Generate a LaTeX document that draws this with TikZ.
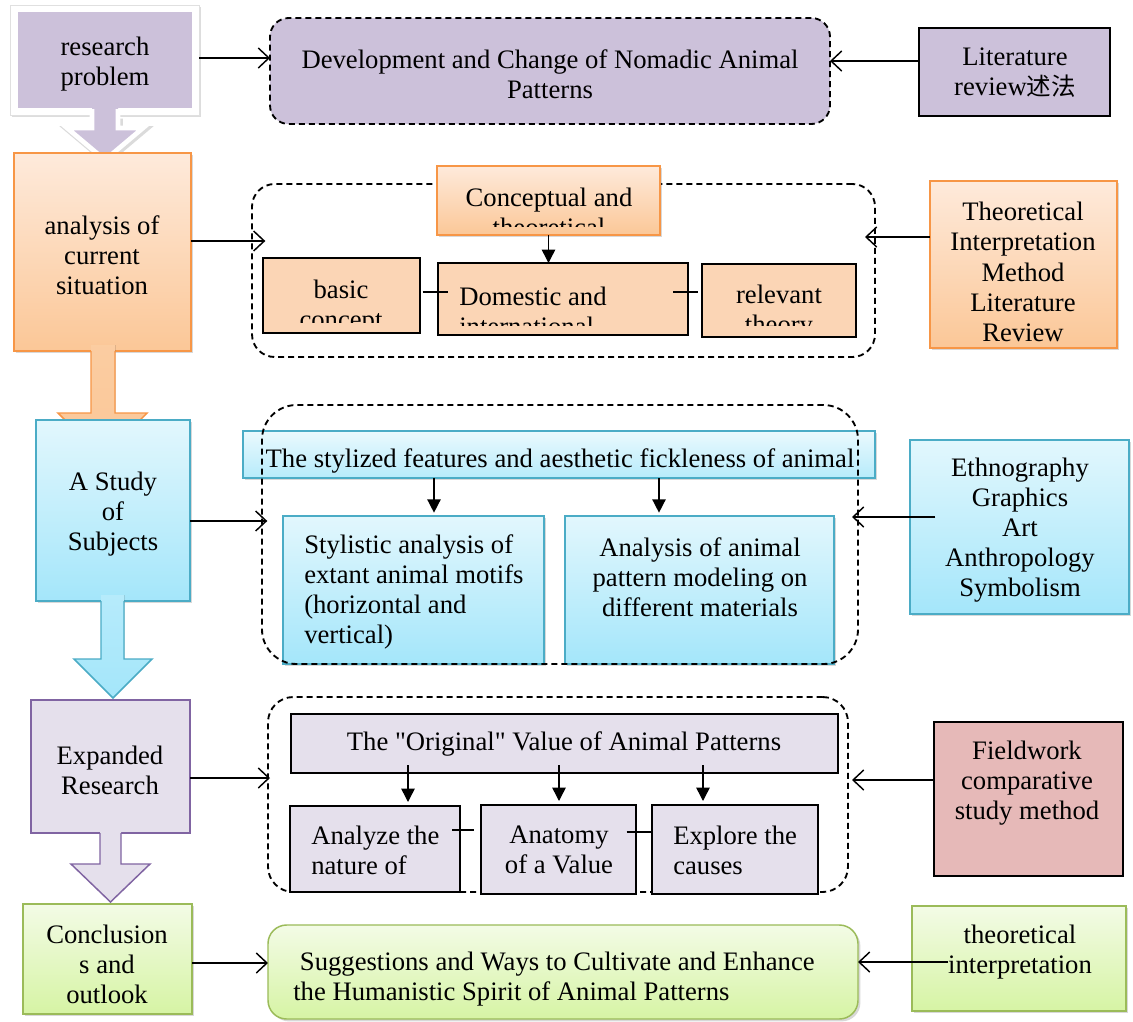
\documentclass[tikz,border=0pt]{standalone}
\usepackage{fontspec}
\setmainfont{Liberation Serif}
\newfontfamily\cjk{Noto Sans CJK SC}[Scale=0.92]
\usetikzlibrary{arrows.meta,shadows,calc}
\definecolor{lav}{HTML}{CCC1DA}
\definecolor{lavlt}{HTML}{E5E0EC}
\definecolor{lavbd}{HTML}{8064A2}
\definecolor{ortop}{HTML}{FEEADB}
\definecolor{orbot}{HTML}{FBC797}
\definecolor{orbd}{HTML}{F79646}
\definecolor{orflat}{HTML}{FBD5B5}
\definecolor{cytop}{HTML}{E2F7FD}
\definecolor{cybot}{HTML}{A4E6FA}
\definecolor{cybd}{HTML}{4BACC6}
\definecolor{grtop}{HTML}{F3FBE6}
\definecolor{grbot}{HTML}{D6F4A4}
\definecolor{grbd}{HTML}{9BBB59}
\definecolor{fwpink}{HTML}{E6B9B8}
\newcommand\bx[6]{\node[#6, inner sep=0pt, outer sep=0pt, minimum width={(#4-#2)*0.75pt}, minimum height={(#5-#3)*0.75pt}] (#1) at ({(#2+#4)/2},{(#3+#5)/2}) {};}
\begin{document}
\begin{tikzpicture}[x=0.75pt,y=-0.75pt,
  txt/.style={inner sep=0pt, align=center, yshift=-1.5pt, font=\fontsize{20pt}{22.6pt}\selectfont},
  shad/.style={drop shadow={shadow xshift=1.8pt,shadow yshift=-1.8pt,opacity=0.25,fill=black!60}},
  orbox/.style={top color=ortop,bottom color=orbot,draw=orbd,line width=1.1pt,shad},
  cybox/.style={top color=cytop,bottom color=cybot,draw=cybd,line width=1.1pt,shad},
  grbox/.style={top color=grtop,bottom color=grbot,draw=grbd,line width=1.1pt,shad},
  flat/.style={draw=black,line width=1.1pt},
  frame/.style={draw=black,line width=1.4pt,dash pattern=on 4.5pt off 3pt},
  barb/.style={draw,line width=1.1pt,-{Straight Barb[length=8pt,width=15pt,line width=1.1pt]}},
  tri/.style={draw,line width=1.1pt,-{Triangle[length=10pt,width=10pt]}},
  link/.style={draw,line width=1.1pt},
  blk/.style={line width=1.1pt,line join=miter}
]
\useasboundingbox[fill=white] (0,0) rectangle (1133,1022);

% ---------- left column ----------
\bx{rp}{10}{5}{199}{115}{fill=white,draw=black!12,line width=0.6pt,drop shadow={shadow xshift=1.5pt,shadow yshift=-1.5pt,opacity=0.22,fill=black!60}}
\bx{rp-in}{18}{12}{192}{108}{fill=lav}
\node[txt] (rp-t) at (105,62) {research\\problem};
% block arrow 1
\draw[black!14,line width=5pt,line join=miter,shift={(1.5,1.5)}] (92,117) -- (92,128) -- (67,128) -- (105,160) -- (143,128) -- (118,128) -- (118,117);
\fill[lav] (92,100) -- (92,128) -- (67,128) -- (105,160) -- (143,128) -- (118,128) -- (118,100) -- cycle;
\draw[white,line width=3.5pt,line join=miter] (92,109) -- (92,128) -- (67,128) -- (105,160) -- (143,128) -- (118,128) -- (118,109);

\bx{acs}{14}{153}{191}{351}{orbox}
\node[txt] (acs-t) at (102,253) {analysis of\\current\\situation};
% block arrow 2
\fill[top color=orbot!90!white,bottom color=orbot] (91,345) -- (91,413) -- (58,413) -- (103,458) -- (147,413) -- (115,413) -- (115,345) -- cycle;
\draw[orbd,blk] (91,351) -- (91,413) -- (58,413) -- (103,458) -- (147,413) -- (115,413) -- (115,351);

\bx{sos}{36}{420}{190}{601}{cybox}
\node[txt] (sos-t) at (113,512) {A Study\\of\\Subjects};
% block arrow 3
\fill[top color=cybot!80!white,bottom color=cybot] (101,595) -- (101,659) -- (74,659) -- (113,698) -- (152,659) -- (124,659) -- (124,595) -- cycle;
\draw[cybd,blk] (101,601) -- (101,659) -- (74,659) -- (113,698) -- (152,659) -- (124,659) -- (124,601);

\bx{er}{31}{700}{190}{833}{fill=lavlt,draw=lavbd,line width=1.1pt}
\node[txt] (er-t) at (110,768) {Expanded\\Research};
% block arrow 4
\fill[lavlt] (100,827) -- (100,864) -- (71,864) -- (110.5,902) -- (150,864) -- (121,864) -- (121,827) -- cycle;
\draw[lavbd,blk] (100,833) -- (100,864) -- (71,864) -- (110.5,902) -- (150,864) -- (121,864) -- (121,833);

\bx{co}{23}{904}{192}{1014}{grbox}
\node[txt] (co-t) at (107,962) {Conclusion\\s and\\outlook};

% ---------- row 1 ----------
\bx{dev}{270}{18}{830}{124}{fill=lav,frame,rounded corners=14pt}
\node[txt] (dev-t) at (550,72) {Development and Change of Nomadic Animal\\Patterns};
\bx{lit}{919}{28}{1110}{116}{fill=lav,flat}
\node[txt] (lit-t) at (1015,71) {Literature\\review{\cjk 述法}};
\draw[barb] (rp.east |- 0,58) -- (dev.west |- 0,58);
\draw[barb] (lit.west |- 0,61) -- (dev.east |- 0,61);

% ---------- row 2 ----------
\bx{fb}{252}{184}{875}{357}{frame,rounded corners=17pt}
\bx{cat}{437}{166}{660}{235}{orbox}
\begin{scope}
\clip (437,166) rectangle (660,226);
\node[txt] (cat-t) at (549,210) {Conceptual and\\theoretical};
\end{scope}
\bx{basic}{263}{258}{420}{333}{fill=orflat,flat}
\bx{dom}{438}{263}{688}{335}{fill=orflat,flat}
\bx{rel}{702}{264}{856}{337}{fill=orflat,flat}
\begin{scope}
\clip (263,258) rectangle (420,322);
\node[txt] (basic-t) at (341,305) {basic\\concept};
\end{scope}
\begin{scope}
\clip (438,263) rectangle (688,325);
\node[txt,align=left,anchor=west] (dom-t) at (459,309) {Domestic and\\international};
\end{scope}
\begin{scope}
\clip (702,264) rectangle (856,325);
\node[txt] (rel-t) at (779,310) {relevant\\theory};
\end{scope}
\draw[tri] (cat.south) -- (dom.north -| cat.south);
\draw[link] ([xshift=2pt]basic.east |- 0,292) -- ([xshift=7.5pt]dom.west |- 0,292);
\draw[link] ([xshift=-11pt]dom.east |- 0,292) -- ([xshift=-3pt]rel.west |- 0,292);
\bx{tim}{930}{181}{1117}{348}{orbox}
\node[txt] (tim-t) at (1023,270) {Theoretical\\Interpretation\\Method\\Literature\\Review};
\draw[barb] (acs.east |- 0,241) -- ([xshift=10pt]fb.west |- 0,241);
\draw[barb] (tim.west |- 0,237) -- ([xshift=-7.5pt]fb.east |- 0,237);

% ---------- row 3 ----------
\bx{sty}{243}{431}{875}{478}{top color=cytop!70!white,bottom color=cybot!80!white,draw=cybd,line width=1.1pt,shad}
\node[txt] (sty-t) at (560,459) {The stylized features and aesthetic fickleness of animal};
\bx{sa}{283}{516}{544}{664}{cybox}
\bx{am}{565}{516}{834}{664}{cybox}
\node[txt,align=left,anchor=west] (sa-t) at (304,590) {Stylistic analysis of\\extant animal motifs\\(horizontal and\\vertical)};
\node[txt] (am-t) at (700,575) {Analysis of animal\\pattern modeling on\\different materials};
\draw[tri] (sty.south -| 434,0) -- ([yshift=2.5pt]sa.north -| 434,0);
\draw[tri] (sty.south -| 659,0) -- ([yshift=2.5pt]am.north -| 659,0);
\bx{fc}{262}{405}{858}{664}{frame,rounded corners=26pt}
\bx{eth}{910}{440}{1129}{614}{cybox}
\node[txt] (eth-t) at (1020,528) {Ethnography\\Graphics\\Art\\Anthropology\\Symbolism};
\draw[barb] (sos.east |- 0,521) -- ([xshift=4pt]fc.west |- 0,521);
\draw[barb] ([xshift=19pt]eth.west |- 0,517) -- ([xshift=-4.5pt]fc.east |- 0,517);

% ---------- row 4 ----------
\bx{fd}{268}{697}{848}{892}{frame,rounded corners=19pt}
\bx{orig}{291}{714}{838}{773}{fill=lavlt,flat}
\node[txt] (orig-t) at (564,742) {The \textquotedbl Original\textquotedbl{} Value of Animal Patterns};
\bx{an}{290}{806}{460}{892}{fill=lavlt,flat}
\bx{ana}{481}{805}{636}{894}{fill=lavlt,flat}
\bx{exp}{652}{805}{818}{894}{fill=lavlt,flat}
\node[txt,align=left,anchor=west] (an-t) at (311,848) {Analyze the\\nature of};
\node[txt] (ana-t) at (559,848) {Anatomy\\of a Value};
\node[txt,align=left,anchor=west] (exp-t) at (673,848) {Explore the\\causes};
\draw[tri] ([yshift=6pt]orig.south -| 408,0) -- ([yshift=3pt]an.north -| 408,0);
\draw[tri] ([yshift=6pt]orig.south -| 559,0) -- ([yshift=3pt]ana.north -| 559,0);
\draw[tri] ([yshift=6pt]orig.south -| 703,0) -- ([yshift=3pt]exp.north -| 703,0);
\draw[link] ([xshift=-6pt]an.east |- 0,830) -- ([xshift=-5pt]ana.west |- 0,830);
\draw[link] ([xshift=-7pt]ana.east |- 0,832) -- ([xshift=-1pt]exp.west |- 0,832);
\bx{fw}{934}{722}{1123}{876}{fill=fwpink,flat}
\node[txt] (fw-t) at (1027,781) {Fieldwork\\comparative\\study method};
\draw[barb] (er.east |- 0,778) -- ([xshift=1.5pt]fd.west |- 0,778);
\draw[barb] (fw.west |- 0,780) -- ([xshift=3pt]fd.east |- 0,780);

% ---------- row 5 ----------
\bx{sug}{268}{925}{858}{1019}{grbox,rounded corners=14pt}
\node[txt,align=left,anchor=west] (sug-t) at (293,977) {\hspace*{5pt}Suggestions and Ways to Cultivate and Enhance\\the Humanistic Spirit of Animal Patterns};
\bx{ti}{912}{906}{1126}{1011}{grbox}
\node[txt] (ti-t) at (1020,950) {theoretical\\interpretation};
\draw[barb] (co.east |- 0,963) -- (sug.west |- 0,963);
\draw[barb] ([xshift=27pt]ti.west |- 0,962) -- (sug.east |- 0,962);
\end{tikzpicture}
\end{document}
